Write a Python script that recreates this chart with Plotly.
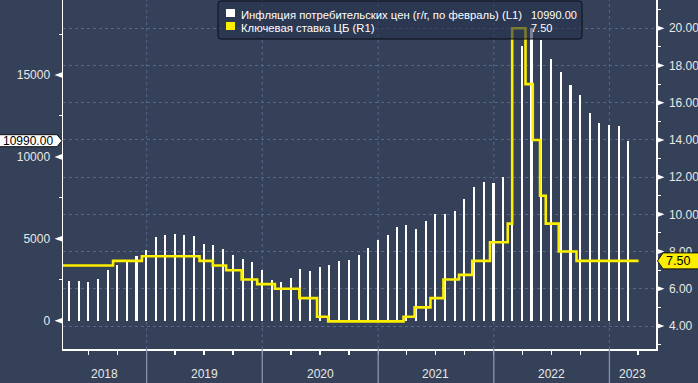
import plotly.graph_objects as go
import pandas as pd

# ---------------- data ----------------
# CPI y/y (in the chart's units, x1000), month-end observations Apr-2018 .. Feb-2023
cpi_first_month = "2018-04"
cpi_last_month = "2023-02"
cpi_values = [2450, 2450, 2390, 2570, 3120, 3410, 3610, 3920, 4330,
              5080, 5260, 5320, 5260, 5200, 4710, 4650, 4390, 4040, 3790, 3610, 3120,
              2510, 2390, 2630, 3180, 3060, 3300, 3430, 3670, 3730, 4020, 4450, 4940,
              5260, 5750, 5870, 5610, 6100, 6530, 6530, 6710, 7450, 8160, 8490, 8410,
              8790, 9150, 16770, 17860, 17150, 15950, 15180, 14380, 13750, 12710, 12040, 11940,
              11870, 10990]

# Key rate (step series): date of change and new level
rate_dates = ["2018-03-26", "2018-09-17", "2018-12-17", "2019-06-17", "2019-07-29",
              "2019-09-09", "2019-10-28", "2019-12-16", "2020-02-10", "2020-04-27",
              "2020-06-22", "2020-07-27", "2021-03-22", "2021-04-26", "2021-06-15",
              "2021-07-26", "2021-09-13", "2021-10-25", "2021-12-20", "2022-02-14",
              "2022-02-28", "2022-04-11", "2022-05-04", "2022-05-27", "2022-06-14",
              "2022-07-25", "2022-09-19", "2023-04-03"]
rate_values = [7.25, 7.50, 7.75, 7.50, 7.25,
               7.00, 6.50, 6.25, 6.00, 5.50,
               4.50, 4.25, 4.50, 5.00, 5.50,
               6.50, 6.75, 7.50, 8.50, 9.50,
               20.00, 17.00, 14.00, 11.00, 9.50,
               8.00, 7.50, 7.50]

cpi_name = "Инфляция потребительских цен (г/г, по февраль) (L1)"
rate_name = "Ключевая ставка ЦБ (R1)"

x_range = ["2018-04-12", "2023-05-28"]
year_labels = ["2018", "2019", "2020", "2021", "2022", "2023"]
left_range = [-1728, 19579]
right_range = [2.764, 21.52]
left_ticks = [0, 5000, 10000, 15000]
right_ticks = [4, 6, 8, 10, 12, 14, 16, 18, 20]

# ---------------- style ----------------
BG = "#344159"
GRID = "#58658a"
FONT = "Liberation Sans, Arial, sans-serif"
YELLOW = "#fbee00"
TXT = "#e8e8e8"

cpi_dates = (pd.period_range(cpi_first_month, cpi_last_month, freq="M")
             .to_timestamp(how="end").normalize().strftime("%Y-%m-%d").tolist())

fig = go.Figure()
fig.add_trace(go.Bar(
    x=cpi_dates, y=cpi_values, name=cpi_name,
    marker=dict(color="white", line=dict(width=0)),
    width=5.6e8, yaxis="y", showlegend=False,
))
fig.add_trace(go.Scatter(
    x=rate_dates, y=rate_values, name=rate_name, mode="lines",
    line=dict(color=YELLOW, width=2.6, shape="hv"),
    yaxis="y2", showlegend=False,
))

shapes = []
annotations = []

# year boundaries / labels
x0 = pd.Timestamp(x_range[0])
x1 = pd.Timestamp(x_range[1])
for lab in year_labels:
    ys = pd.Timestamp(f"{lab}-01-01")
    ye = pd.Timestamp(f"{int(lab) + 1}-01-01")
    a = max(ys, x0)
    b = min(ye, x1)
    mid = a + (b - a) / 2
    annotations.append(dict(x=mid.strftime("%Y-%m-%d"), xref="x", y=-0.073, yref="paper",
                            text=lab, showarrow=False, xanchor="center", yanchor="middle",
                            font=dict(family=FONT, size=12, color=TXT)))
    if ys > x0:
        d = ys.strftime("%Y-%m-%d")
        shapes.append(dict(type="line", xref="x", yref="paper", x0=d, x1=d, y0=0, y1=1,
                           line=dict(color=GRID, width=1, dash="3px,3px"), layer="below"))
        shapes.append(dict(type="line", xref="x", yref="paper", x0=d, x1=d, y0=-0.12, y1=0,
                           line=dict(color="#8c94a8", width=1.3), layer="above"))

# triangle tick markers
for v in left_ticks:
    shapes.append(dict(type="path", xref="paper", xsizemode="pixel", xanchor=0,
                       yref="y", ysizemode="pixel", yanchor=v,
                       path="M -8.5,0 L -1,2.8 L -1,-2.8 Z",
                       fillcolor="white", line=dict(width=0), layer="above"))
for v in right_ticks:
    shapes.append(dict(type="path", xref="paper", xsizemode="pixel", xanchor=1,
                       yref="y2", ysizemode="pixel", yanchor=v,
                       path="M 1,2.8 L 8.5,0 L 1,-2.8 Z",
                       fillcolor="white", line=dict(width=0), layer="above"))

# last-value boxes
last_cpi = cpi_values[-1]
last_rate = rate_values[-1]
shapes.append(dict(type="path", xref="paper", xsizemode="pixel", xanchor=0,
                   yref="y", ysizemode="pixel", yanchor=last_cpi,
                   path="M -66,6 L -6,6 L -1,0 L -6,-6 L -66,-6 Z",
                   fillcolor="white", line=dict(color="#111111", width=1), layer="above"))
annotations.append(dict(x=-0.0585, xref="paper", y=last_cpi, yref="y",
                        text=f"{last_cpi:.2f}", showarrow=False,
                        xanchor="center", yanchor="middle",
                        font=dict(family=FONT, size=12, color="black")))
shapes.append(dict(type="path", xref="paper", xsizemode="pixel", xanchor=1,
                   yref="y2", ysizemode="pixel", yanchor=last_rate,
                   path="M 1.5,0 L 7,8 L 50,8 L 50,-8 L 7,-8 Z",
                   fillcolor=YELLOW, line=dict(color="#111111", width=1), layer="above"))
annotations.append(dict(x=1.0368, xref="paper", y=last_rate, yref="y2",
                        text=f"{last_rate:.2f}", showarrow=False,
                        xanchor="center", yanchor="middle",
                        font=dict(family=FONT, size=12.5, color="black")))

# legend box
LX, LY = 0.2614, 0.9971
shapes.append(dict(type="path", xref="paper", xsizemode="pixel", xanchor=LX,
                   yref="paper", ysizemode="pixel", yanchor=LY,
                   path="M 3,0 L 361,0 Q 364,0 364,-3 L 364,-35 Q 364,-38 361,-38 "
                        "L 3,-38 Q 0,-38 0,-35 L 0,-3 Q 0,0 3,0 Z",
                   fillcolor="rgba(40,52,76,0.62)", line=dict(color="#0b0e14", width=1),
                   layer="above"))
for i, col in enumerate(["white", YELLOW]):
    shapes.append(dict(type="rect", xref="paper", xsizemode="pixel", xanchor=LX,
                       yref="paper", ysizemode="pixel", yanchor=LY,
                       x0=8, x1=17, y0=-8 - 13 * i, y1=-16 - 13 * i,
                       fillcolor=col, line=dict(width=0), layer="above"))
for i, (nm, val) in enumerate([(cpi_name, f"{last_cpi:.2f}"), (rate_name, f"{last_rate:.2f}")]):
    yy = (349 - (15.0 + 13 * i)) / 349
    annotations.append(dict(x=0.296, xref="paper", y=yy, yref="paper", text=nm,
                            showarrow=False, xanchor="left", yanchor="middle",
                            font=dict(family=FONT, size=11.3, color="white")))
    annotations.append(dict(x=0.7858, xref="paper", y=yy, yref="paper", text=val,
                            showarrow=False, xanchor="left", yanchor="middle",
                            font=dict(family=FONT, size=11, color="white")))

fig.update_layout(
    width=698, height=383,
    margin=dict(l=63, r=42, t=0, b=34, pad=0, autoexpand=False),
    paper_bgcolor=BG, plot_bgcolor=BG,
    showlegend=False, bargap=0,
    font=dict(family=FONT, size=12, color=TXT),
    xaxis=dict(type="date", range=x_range, showgrid=False, zeroline=False,
               automargin=False,
               showline=True, linecolor="white", linewidth=1.5,
               ticks="outside", ticklen=4, tickwidth=1.3, tickcolor="white",
               tick0="2018-01-01", dtick="M3", showticklabels=False),
    yaxis=dict(range=left_range, tick0=0, dtick=5000, tickformat="d",
               automargin=False,
               showgrid=False, zeroline=False, showline=True, linecolor="white",
               linewidth=1.5, ticks="", ticklabelstandoff=9,
               tickfont=dict(family=FONT, size=12, color=TXT),
               minor=dict(dtick=2500, tick0=0, ticks="outside", ticklen=3,
                          tickcolor="white", tickwidth=1, showgrid=False)),
    yaxis2=dict(range=right_range, overlaying="y", side="right", tick0=0, dtick=2,
                automargin=False,
                tickformat=".2f", showgrid=True, gridcolor=GRID, griddash="3px,3px",
                gridwidth=1, zeroline=False, showline=True, linecolor="white",
                linewidth=1.5, ticks="", ticklabelstandoff=9,
                tickfont=dict(family=FONT, size=12, color=TXT),
                minor=dict(dtick=1, tick0=0, ticks="outside", ticklen=3,
                           tickcolor="white", tickwidth=1, showgrid=False)),
    shapes=shapes, annotations=annotations,
)

fig.write_html("out.html",
               config={"displayModeBar": False, "staticPlot": True},
               post_script="document.body.style.margin='0';"
                           "document.body.style.overflow='hidden';"
                           "document.body.style.background='" + BG + "';")
